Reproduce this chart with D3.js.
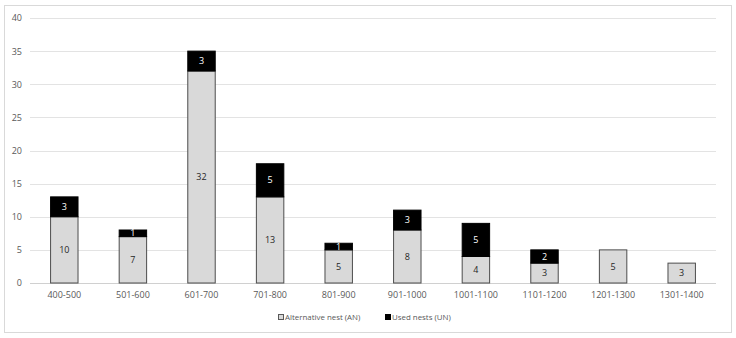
<!DOCTYPE html>
<html>
<head>
<meta charset="utf-8">
<script src="https://cdn.jsdelivr.net/npm/d3@7"></script>
<style>
    body { margin: 0; background: #fff; }
    svg text { font-family: 'Open Sans', 'Noto Sans', sans-serif; }
</style>
</head>
<body>
<div id="graph-container"></div>
<script>
// DATA
const categories = ['400-500', '501-600', '601-700', '701-800', '801-900', '901-1000', '1001-1100', '1101-1200', '1201-1300', '1301-1400']
const alternativeNests = [10, 7, 32, 13, 5, 8, 4, 3, 5, 3]
const usedNests = [3, 1, 3, 5, 1, 3, 5, 2, 0, 0]
const yTicks = [0, 5, 10, 15, 20, 25, 30, 35, 40]
const seriesNames = ['Alternative nest (AN)', 'Used nests (UN)']

// SETTINGS
const settings = {
    width: 736,
    height: 338,
    plot: { left: 30, right: 716, top: 18, bottom: 283 },
    colors: { an: '#d9d9d9', un: '#000000', grid: '#e3e3e3', text: '#595959' }
}

const svg = d3.select('#graph-container').append('svg')
    .attr('width', settings.width)
    .attr('height', settings.height)

// outer border
svg.append('rect')
    .attr('x', 4.5).attr('y', 5.5)
    .attr('width', 727).attr('height', 327)
    .attr('fill', 'none')
    .attr('stroke', '#d9d9d9')

const x = d3.scaleBand()
    .domain(categories)
    .range([settings.plot.left, settings.plot.right])
    .paddingInner(0.6)
    .paddingOuter(0.3)

const y = d3.scaleLinear()
    .domain([0, 40])
    .range([settings.plot.bottom, settings.plot.top])

// gridlines
svg.append('g')
    .selectAll('line')
    .data(yTicks)
    .enter().append('line')
    .attr('x1', settings.plot.left)
    .attr('x2', settings.plot.right)
    .attr('y1', d => Math.round(y(d)) + 0.5)
    .attr('y2', d => Math.round(y(d)) + 0.5)
    .attr('stroke', d => d === 0 ? '#d0d0d0' : settings.colors.grid)

// y axis labels
const yAxis = d3.axisLeft(y).tickValues(yTicks).tickSize(0).tickPadding(6)
const yAxisGroup = svg.append('g')
    .attr('transform', `translate(${settings.plot.left - 2}, 0)`)
    .call(yAxis)
yAxisGroup.select('.domain').remove()
yAxisGroup.selectAll('text')
    .attr('font-size', 9)
    .attr('fill', settings.colors.text)
    .style('font-family', "'Open Sans', sans-serif")

// x axis labels
const xAxis = d3.axisBottom(x).tickSize(0).tickPadding(9)
const xAxisGroup = svg.append('g')
    .attr('transform', `translate(0, ${settings.plot.bottom})`)
    .call(xAxis)
xAxisGroup.select('.domain').remove()
xAxisGroup.selectAll('text')
    .attr('font-size', 9)
    .attr('fill', settings.colors.text)
    .style('font-family', "'Open Sans', sans-serif")

const rows = categories.map((c, i) => ({ cat: c, an: alternativeNests[i], un: usedNests[i] }))

// AN bars
svg.append('g').selectAll('rect')
    .data(rows)
    .enter().append('rect')
    .attr('x', d => x(d.cat))
    .attr('width', x.bandwidth())
    .attr('y', d => y(d.an))
    .attr('height', d => y(0) - y(d.an))
    .attr('fill', settings.colors.an)
    .attr('stroke', '#4d4d4d')
    .attr('stroke-width', 1)

// UN bars
svg.append('g').selectAll('rect')
    .data(rows.filter(d => d.un > 0))
    .enter().append('rect')
    .attr('x', d => x(d.cat))
    .attr('width', x.bandwidth())
    .attr('y', d => y(d.an + d.un))
    .attr('height', d => y(d.an) - y(d.an + d.un))
    .attr('fill', settings.colors.un)
    .attr('stroke', '#000')
    .attr('stroke-width', 1)

// labels
svg.append('g').selectAll('text')
    .data(rows)
    .enter().append('text')
    .attr('x', d => x(d.cat) + x.bandwidth() / 2)
    .attr('y', d => y(d.an / 2))
    .attr('dy', '0.35em')
    .attr('text-anchor', 'middle')
    .attr('font-size', 9)
    .attr('fill', '#262626')
    .text(d => d.an)

svg.append('g').selectAll('text')
    .data(rows.filter(d => d.un > 0))
    .enter().append('text')
    .attr('x', d => x(d.cat) + x.bandwidth() / 2)
    .attr('y', d => y(d.an + d.un / 2))
    .attr('dy', '0.35em')
    .attr('text-anchor', 'middle')
    .attr('font-size', 9)
    .attr('fill', '#ffffff')
    .text(d => d.un)

// legend
const legend = svg.append('g').attr('transform', 'translate(0, 317)')
const legendItems = [
    { name: seriesNames[0], fill: settings.colors.an, stroke: '#595959', x: 278 },
    { name: seriesNames[1], fill: settings.colors.un, stroke: '#000', x: 385 }
]
legendItems.forEach(item => {
    legend.append('rect')
        .attr('x', item.x + 0.5).attr('y', -2.5)
        .attr('width', 5).attr('height', 5)
        .attr('fill', item.fill)
        .attr('stroke', item.stroke)
    legend.append('text')
        .attr('x', item.x + 7)
        .attr('y', 0)
        .attr('dy', '0.35em')
        .attr('font-size', 7.9)
        .attr('fill', settings.colors.text)
        .text(item.name)
})
</script>
</body>
</html>
